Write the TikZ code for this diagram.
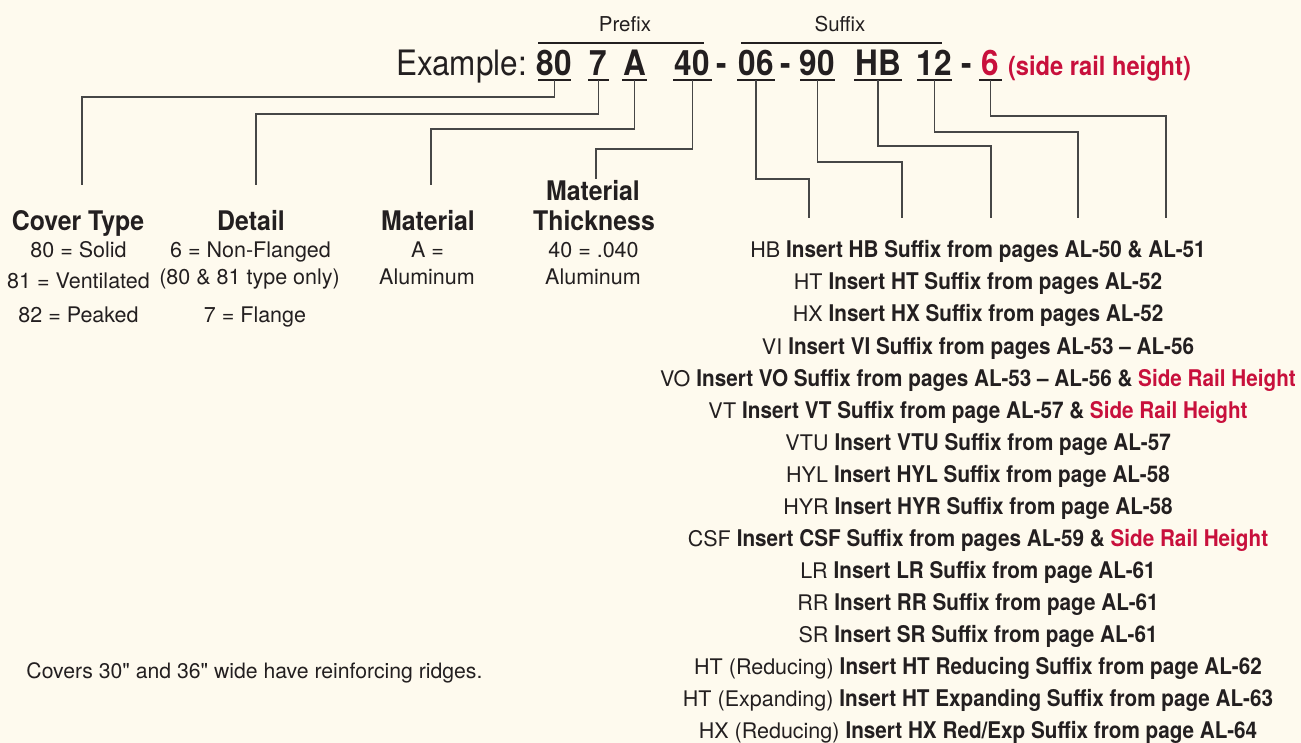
\documentclass[tikz,border=0pt]{standalone}
\usepackage{fontspec}
\setmainfont{TeX Gyre Heros}
\newfontfamily\cnd{TeX Gyre Heros}[FakeStretch=0.9]
\newfontfamily\cnt{TeX Gyre Heros}[FakeStretch=0.92]
\definecolor{bg}{RGB}{254,250,238}
\definecolor{ink}{RGB}{35,31,32}
\definecolor{rail}{RGB}{200,16,60}
\definecolor{wire}{RGB}{70,70,70}
\newcommand{\regpart}[1]{{\fontsize{21.5}{24}\selectfont #1}}
\newcommand{\boldpart}[1]{{\cnd\bfseries\fontsize{23}{26}\selectfont #1}}
\newcommand{\inch}{{\XeTeXglyph\XeTeXcharglyph"22\relax}}
\begin{document}
\begin{tikzpicture}[x=1pt,y=-1pt,
  every node/.style={inner sep=0pt, outer sep=0pt, text=ink, anchor=base},
  hdr/.style={font=\cnd\fontsize{35}{40}\selectfont},
  hdrb/.style={font=\cnd\bfseries\fontsize{35}{40}\selectfont},
  ttl/.style={font=\cnt\bfseries\fontsize{27}{30}\selectfont},
  txt/.style={font=\fontsize{21.5}{24}\selectfont},
  lbl/.style={font=\fontsize{20.5}{24}\selectfont},
  item/.style={font=\fontsize{21.5}{24}\selectfont},
  uline/.style={draw=ink, line width=1.3pt},
  conn/.style={draw=wire, line width=1.2pt}]
\fill[bg] (0,0) rectangle (1301,743);
\useasboundingbox (0,0) rectangle (1301,743);

% header
\node[lbl] (prefix) at (625,32) {Prefix};
\node[lbl] (suffix) at (840,32) {Suffix};
\draw[uline] (538,43) -- (704,43);
\draw[uline] (741,43) -- (942,43);

\node[hdr, anchor=base west] (ex) at (396,76) {Example:};
\node[hdrb] (p80) at (554.5,76) {80};
\node[hdrb] (p7) at (598.5,76) {7};
\node[hdrb] (pA) at (634.5,76) {A};
\node[hdrb] (p40) at (692.5,76) {40};
\node[hdrb] (d1) at (722,76) {-};
\node[hdrb] (p06) at (756,76) {06};
\node[hdrb] (d2) at (786,76) {-};
\node[hdrb] (p90) at (817.5,76) {90};
\node[hdrb] (pHB) at (878,76) {HB};
\node[hdrb] (p12) at (934.5,76) {12};
\node[hdrb] (d3) at (967,76) {-};
\node[hdrb, text=rail] (p6) at (990.5,76) {6};
\node[font=\cnd\bfseries\fontsize{26.3}{29}\selectfont, text=rail, anchor=base west] (srh) at (1008,76) {(side rail height)};

% underlines
\draw[uline] (538,80) -- (571,80);
\draw[uline] (588,80) -- (609,80);
\draw[uline] (622,80) -- (647,80);
\draw[uline] (673,80) -- (712,80);
\draw[uline] (737,80) -- (775,80);
\draw[uline] (800,80) -- (835,80);
\draw[uline] (854,80) -- (902,80);
\draw[uline] (917,80) -- (952,80);
\draw[uline] (979,80) -- (1002,80);

% connector anchor coordinates
\coordinate (u80) at (554.5,80);  \coordinate (k80) at (82,97);   \coordinate (e80) at (82,185);
\coordinate (u7)  at (598.5,80);  \coordinate (k7)  at (256,114); \coordinate (e7)  at (256,185);
\coordinate (uA)  at (634.5,80);  \coordinate (kA)  at (431,129); \coordinate (eA)  at (431,185);
\coordinate (u40) at (692.5,80);  \coordinate (k40) at (596,149); \coordinate (e40) at (596,179);
\coordinate (u06) at (756,80);    \coordinate (k06) at (809,179); \coordinate (e06) at (809,218);
\coordinate (u90) at (817.5,80);  \coordinate (k90) at (902,162); \coordinate (e90) at (902,218);
\coordinate (uHB) at (878,80);    \coordinate (kHB) at (991,146); \coordinate (eHB) at (991,218);
\coordinate (u12) at (934.5,80);  \coordinate (k12) at (1078,132); \coordinate (e12) at (1078,218);
\coordinate (u6)  at (990.5,80);  \coordinate (k6)  at (1166,116); \coordinate (e6)  at (1166,218);

\draw[conn] (u80) |- (k80) -- (e80);
\draw[conn] (u7) |- (k7) -- (e7);
\draw[conn] (uA) |- (kA) -- (eA);
\draw[conn] (u40) |- (k40) -- (e40);
\draw[conn] (u06) |- (k06) -- (e06);
\draw[conn] (u90) |- (k90) -- (e90);
\draw[conn] (uHB) |- (kHB) -- (eHB);
\draw[conn] (u12) |- (k12) -- (e12);
\draw[conn] (u6) |- (k6) -- (e6);

% left columns
\node[ttl] (ct) at (78,231) {Cover Type};
\node[txt] (ct1) at (78.5,258) {80 = Solid};
\node[txt] (ct2) at (78.5,289) {81 = Ventilated};
\node[txt] (ct3) at (78.5,322.5) {82 = Peaked};

\node[ttl] (dt) at (251,231) {Detail};
\node[txt] (dt1) at (250.5,258) {6 = Non-Flanged};
\node[txt] (dt2) at (249.5,285) {(80 \& 81 type only)};
\node[txt] (dt3) at (255,322.5) {7 = Flange};

\node[ttl] (mt) at (428,231) {Material};
\node[txt] (mt1) at (427.5,258) {A =};
\node[txt] (mt2) at (427,285) {Aluminum};

\node[ttl] (th1) at (593,201) {Material};
\node[ttl] (th2) at (594,231) {Thickness};
\node[txt] (th3) at (593.5,258) {40 = .040};
\node[txt] (th4) at (593,285) {Aluminum};

\node[font=\fontsize{21.2}{24}\selectfont, anchor=base west] (note) at (26.5,678) {Covers 30\inch{} and 36\inch{} wide have reinforcing ridges.};

% suffix list
\node[item] (l1) at (978,258) {\regpart{HB} \boldpart{Insert HB Suffix from pages AL-50 \& AL-51}};
\node[item] (l2) at (978,290) {\regpart{HT} \boldpart{Insert HT Suffix from pages AL-52}};
\node[item] (l3) at (978,322) {\regpart{HX} \boldpart{Insert HX Suffix from pages AL-52}};
\node[item] (l4) at (978,354) {\regpart{VI} \boldpart{Insert VI Suffix from pages AL-53 – AL-56}};
\node[item] (l5) at (978,386) {\regpart{VO} \boldpart{Insert VO Suffix from pages AL-53 – AL-56 \& \textcolor{rail}{Side Rail Height}}};
\node[item] (l6) at (978,418) {\regpart{VT} \boldpart{Insert VT Suffix from page AL-57 \& \textcolor{rail}{Side Rail Height}}};
\node[item] (l7) at (978,450) {\regpart{VTU} \boldpart{Insert VTU Suffix from page AL-57}};
\node[item] (l8) at (978,482) {\regpart{HYL} \boldpart{Insert HYL Suffix from page AL-58}};
\node[item] (l9) at (978,514) {\regpart{HYR} \boldpart{Insert HYR Suffix from page AL-58}};
\node[item] (l10) at (978,546) {\regpart{CSF} \boldpart{Insert CSF Suffix from pages AL-59 \& \textcolor{rail}{Side Rail Height}}};
\node[item] (l11) at (978,578) {\regpart{LR} \boldpart{Insert LR Suffix from page AL-61}};
\node[item] (l12) at (978,610) {\regpart{RR} \boldpart{Insert RR Suffix from page AL-61}};
\node[item] (l13) at (978,642) {\regpart{SR} \boldpart{Insert SR Suffix from page AL-61}};
\node[item] (l14) at (978,674) {\regpart{HT (Reducing)} \boldpart{Insert HT Reducing Suffix from page AL-62}};
\node[item] (l15) at (978,706) {\regpart{HT (Expanding)} \boldpart{Insert HT Expanding Suffix from page AL-63}};
\node[item] (l16) at (978,738) {\regpart{HX (Reducing)} \boldpart{Insert HX Red/Exp Suffix from page AL-64}};
\end{tikzpicture}
\end{document}
